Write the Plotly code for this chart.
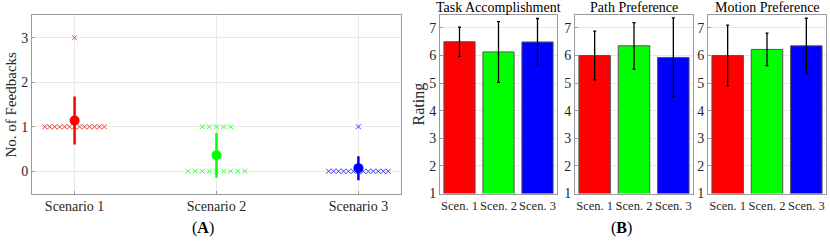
import plotly.graph_objects as go
import numpy as np

# ---------------- data ----------------
scenarios = ["Scenario 1", "Scenario 2", "Scenario 3"]
feedback_s1 = [1, 1, 1, 1, 1, 1, 1, 1, 1, 1, 1, 1, 1, 3]
feedback_s2 = [0, 0, 0, 0, 0, 0, 0, 0, 0, 1, 1, 1, 1, 1]
feedback_s3 = [0, 0, 0, 0, 0, 0, 0, 0, 0, 0, 0, 0, 0, 1]
feedback_mean = [1.14, 0.36, 0.07]
feedback_sd = [0.54, 0.50, 0.27]

bar_labels = ["Scen. 1", "Scen. 2", "Scen. 3"]
panel_titles = ["Task Accomplishment", "Path Preference", "Motion Preference"]
task_mean = [6.50, 6.13, 6.49]
task_sd = [0.53, 1.10, 0.85]
path_mean = [6.00, 6.35, 5.93]
path_sd = [0.88, 0.84, 1.43]
motion_mean = [6.00, 6.22, 6.35]
motion_sd = [1.10, 0.59, 1.00]

colors = ["#ff0000", "#00ff00", "#0000ff"]
FONT = "Liberation Serif"
W, H = 830, 247

def px_x(p):
    return p / W

def px_y(p):
    return 1 - p / H

fig = go.Figure()

# ---------------- panel A ----------------
for i, vals in enumerate([feedback_s1, feedback_s2, feedback_s3]):
    cx = i + 1
    xs, ys = [], []
    vals = np.array(vals)
    for v in sorted(set(vals.tolist())):
        n = int((vals == v).sum())
        step = min(0.05, 0.42 / (n - 1)) if n > 1 else 0
        offs = (np.arange(n) - (n - 1) / 2) * step
        xs += (cx + offs).tolist()
        ys += [v] * n
    fig.add_trace(go.Scatter(
        x=xs, y=ys, mode="markers", xaxis="x", yaxis="y",
        marker=dict(symbol="x-thin", size=5, color=colors[i], opacity=0.75,
                    line=dict(color=colors[i], width=1)),
        showlegend=False, hoverinfo="skip"))
    fig.add_trace(go.Scatter(
        x=[cx], y=[feedback_mean[i]], mode="markers", xaxis="x", yaxis="y",
        marker=dict(symbol="circle", size=10, color=colors[i]),
        error_y=dict(type="data", array=[feedback_sd[i]], color=colors[i],
                     thickness=2.5, width=0),
        showlegend=False))

axis_line = "#9a9a9a"
grid_col = "#e8e8e8"
tick_font_a = dict(family=FONT, size=14, color="#262626")
tick_font_b = dict(family=FONT, size=14, color="#262626")
xtick_font_b = dict(family=FONT, size=12.5, color="#262626")

layout = dict(
    width=W, height=H, margin=dict(l=0, r=0, t=0, b=0),
    plot_bgcolor="white", paper_bgcolor="white",
    font=dict(family=FONT, color="#262626"),
    bargap=0.2,
)
layout["xaxis"] = dict(
    domain=[px_x(32), px_x(401)], range=[0.7, 3.3],
    tickvals=[1, 2, 3], ticktext=scenarios, tickfont=tick_font_a,
    showgrid=True, gridcolor=grid_col, zeroline=False,
    showline=True, linecolor=axis_line, linewidth=1, mirror=True,
    ticks="inside", ticklen=3, tickcolor=axis_line, anchor="y", tickangle=0)
layout["yaxis"] = dict(
    domain=[px_y(200), px_y(16)], range=[-0.5, 3.5],
    tickvals=[0, 1, 2, 3], tickfont=tick_font_a,
    showgrid=True, gridcolor=grid_col, zeroline=False,
    showline=True, linecolor=axis_line, linewidth=1, mirror=True,
    ticks="inside", ticklen=3, tickcolor=axis_line, anchor="x")

# ---------------- panel B ----------------
doms = [(440, 557), (575, 693), (708, 826)]
datasets = [(task_mean, task_sd), (path_mean, path_sd), (motion_mean, motion_sd)]
annotations = []
for k, ((x0, x1), (m, s)) in enumerate(zip(doms, datasets)):
    xa = f"x{k + 2}"
    ya = f"y{k + 2}"
    fig.add_trace(go.Bar(
        x=[1, 2, 3], y=m, xaxis=xa, yaxis=ya,
        marker=dict(color=colors, line=dict(color="#555555", width=1)),
        error_y=dict(type="data", array=s, color="#000000", thickness=1.3, width=1.5),
        width=0.8, showlegend=False))
    layout[f"xaxis{k + 2}"] = dict(
        domain=[px_x(x0), px_x(x1)], range=[0.5, 3.5],
        tickvals=[1, 2, 3], ticktext=bar_labels, tickfont=xtick_font_b,
        tickangle=0,
        showgrid=False, zeroline=False,
        showline=True, linecolor=axis_line, linewidth=1, mirror=True,
        ticks="", anchor=ya)
    layout[f"yaxis{k + 2}"] = dict(
        domain=[px_y(200), px_y(16)], range=[1, 7.45],
        tickvals=[1, 2, 3, 4, 5, 6, 7], tickfont=tick_font_b,
        showgrid=True, gridcolor=grid_col, zeroline=False,
        showline=True, linecolor=axis_line, linewidth=1, mirror=True,
        ticks="inside", ticklen=3, tickcolor=axis_line, anchor=xa)
    annotations.append(dict(
        x=px_x((x0 + x1) / 2), y=px_y(8), xref="paper", yref="paper",
        text=panel_titles[k], showarrow=False,
        font=dict(family=FONT, size=14, color="black"),
        xanchor="center", yanchor="middle"))

annotations += [
    dict(x=px_x(11), y=px_y(108), xref="paper", yref="paper",
         text="No. of Feedbacks", textangle=-90, showarrow=False,
         font=dict(family=FONT, size=15, color="#262626"),
         xanchor="center", yanchor="middle"),
    dict(x=px_x(419), y=px_y(108), xref="paper", yref="paper",
         text="Rating", textangle=-90, showarrow=False,
         font=dict(family=FONT, size=16, color="#262626"),
         xanchor="center", yanchor="middle"),
    dict(x=px_x(203), y=px_y(236), xref="paper", yref="paper",
         text="(<b>A</b>)", showarrow=False,
         font=dict(family=FONT, size=16, color="black"),
         xanchor="center", yanchor="middle"),
    dict(x=px_x(621), y=px_y(236), xref="paper", yref="paper",
         text="(<b>B</b>)", showarrow=False,
         font=dict(family=FONT, size=16, color="black"),
         xanchor="center", yanchor="middle"),
]
layout["annotations"] = annotations
fig.update_layout(**layout)
fig.write_html("out.html", config={"displayModeBar": False, "staticPlot": True})

# remove the default page margin so the figure starts at the window corner
with open("out.html", "r", encoding="utf-8") as f:
    html = f.read()
html = html.replace("<head>", "<head><style>html,body{margin:0;padding:0;overflow:hidden;}</style>", 1)
with open("out.html", "w", encoding="utf-8") as f:
    f.write(html)
